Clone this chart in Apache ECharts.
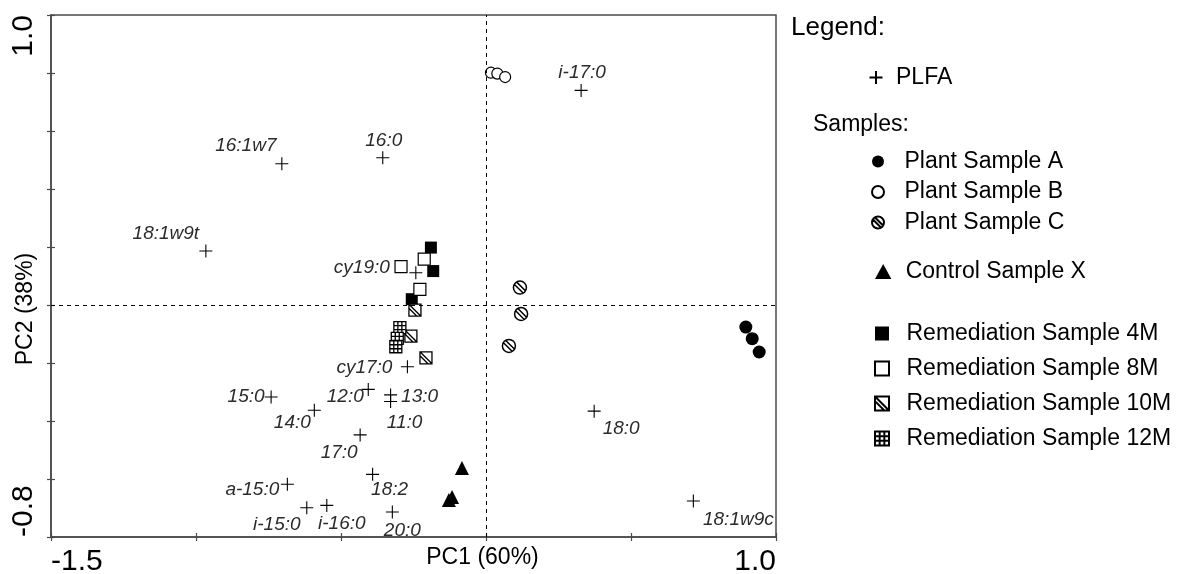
<!DOCTYPE html>
<html>
<head>
<meta charset="utf-8">
<script src="https://cdn.jsdelivr.net/npm/echarts@6/dist/echarts.min.js"></script>
<style>
  html, body { margin: 0; padding: 0; background: #fff; }
  #chart { width: 1182px; height: 574px; }
</style>
</head>
<body>
<div id="chart"></div>
<script>
const font = "Arial, 'Liberation Sans', sans-serif";
const ink = "#000";
const axisGrey = "#4a4a4a";

// axis end labels
const xTickValues = [-1.5, 1.0];
const xTickLabels = ["-1.5", "1.0"];
const yTickValues = [-0.8, 1.0];
const yTickLabels = ["-0.8", "1.0"];

// PLFA scores
const plfaNames = ["i-17:0", "16:1w7", "16:0", "18:1w9t", "cy19:0", "cy17:0", "15:0", "12:0", "13:0", "11:0",
  "14:0", "17:0", "18:2", "a-15:0", "i-15:0", "i-16:0", "20:0", "18:0", "18:1w9c"];
const plfaX = [0.328, -0.704, -0.356, -0.966, -0.242, -0.271, -0.741, -0.406, -0.329, -0.329,
  -0.592, -0.434, -0.391, -0.685, -0.618, -0.549, -0.323, 0.373, 0.715];
const plfaY = [0.740, 0.487, 0.508, 0.186, 0.111, -0.213, -0.317, -0.291, -0.310, -0.333,
  -0.363, -0.448, -0.584, -0.618, -0.699, -0.691, -0.714, -0.366, -0.676];

// sample scores
const plantA = [[0.896, -0.076], [0.918, -0.116], [0.942, -0.162]];
const plantB = [[0.017, 0.801], [0.039, 0.798], [0.066, 0.786]];
const plantC = [[0.117, 0.060], [0.121, -0.031], [0.079, -0.141]];
const controlX = [[-0.083, -0.562], [-0.128, -0.672], [-0.117, -0.662]];
const rem4M = [[-0.190, 0.198], [-0.182, 0.117], [-0.256, 0.020]];
const rem8M = [[-0.213, 0.158], [-0.293, 0.132], [-0.228, 0.054]];
const rem10M = [[-0.245, -0.018], [-0.259, -0.107], [-0.207, -0.182]];
const rem12M = [[-0.297, -0.078], [-0.306, -0.115], [-0.311, -0.144]];

// where each PLFA label sits relative to its cross (px)
const labelOffset = {
  "i-17:0": [1, -18], "16:1w7": [-36, -18], "16:0": [1, -17], "18:1w9t": [-40, -17],
  "cy19:0": [-54, -5], "cy17:0": [-43, 1], "15:0": [-25, 0], "12:0": [-23, 7],
  "13:0": [29, 2], "11:0": [14, 21], "14:0": [-22, 12], "17:0": [-21, 18],
  "18:2": [17, 15], "a-15:0": [-35, 5], "i-15:0": [-30, 17], "i-16:0": [15, 18],
  "20:0": [10, 19], "18:0": [27, 18], "18:1w9c": [45, 19]
};

const sym = {
  cross: "path://M0,6L12,6M6,0L6,12",
  circle: "path://M0,6A6,6,0,1,1,12,6A6,6,0,1,1,0,6Z",
  circleHatch: "path://M0,6A6,6,0,1,1,12,6A6,6,0,1,1,0,6ZM1.2,3.3L8.7,10.8M3.3,1.2L10.8,8.7",
  triangle: "path://M6,0L12,11L0,11Z",
  square: "path://M0,0H12V12H0Z",
  squareHatch: "path://M0,0H12V12H0ZM0,0L12,12M0,4L8,12",
  squareGrid: "path://M0,0H12V12H0ZM4,0V12M8,0V12M0,4H12M0,8H12"
};

const filled = { color: ink, borderWidth: 0, opacity: 1 };
const hollow = { color: "#fff", borderColor: ink, borderWidth: 1.2, opacity: 1 };
const hatched = { color: "#fff", borderColor: ink, borderWidth: 1.3, opacity: 1 };

function tickFormatter(values, labels) {
  return (v) => {
    const i = values.findIndex((t) => Math.abs(t - v) < 1e-6);
    return i >= 0 ? labels[i] : "";
  };
}

function samples(name, data, symbol, size, style) {
  return { type: "scatter", name, data, symbol, symbolSize: size, itemStyle: style, z: 3 };
}

const chart = echarts.init(document.getElementById("chart"));

const plfaData = plfaNames.map((name, i) => ({
  name,
  value: [plfaX[i], plfaY[i]],
  label: { offset: labelOffset[name] }
}));

const axisLine = { show: true, onZero: false, lineStyle: { color: axisGrey, width: 1.5 } };
const tickLine = { color: axisGrey, width: 1.2 };
const legendText = { fontFamily: font, fontSize: 23, color: ink };

chart.setOption({
  animation: false,
  backgroundColor: "#fff",
  textStyle: { fontFamily: font },
  grid: {
    left: 51, top: 15, width: 725, height: 522,
    show: true, borderColor: axisGrey, borderWidth: 1.5,
    outerBoundsMode: "none"
  },
  xAxis: [{
    type: "value", min: -1.5, max: 1.0, interval: 0.5, position: "bottom",
    axisLine, splitLine: { show: false },
    axisTick: { show: true, length: 4, lineStyle: tickLine },
    axisLabel: {
      formatter: tickFormatter(xTickValues, xTickLabels),
      fontSize: 30, color: ink, margin: 10,
      alignMinLabel: "left", alignMaxLabel: "right"
    },
    name: "PC1 (60%)", nameLocation: "middle", nameGap: 9, nameMoveOverlap: false,
    nameTextStyle: { fontSize: 23, color: ink, padding: [0, 0, 0, 138] }
  }, {
    type: "value", min: -1.5, max: 1.0, interval: 0.5, position: "bottom",
    axisLine: { show: false, onZero: false }, splitLine: { show: false }, axisLabel: { show: false },
    axisTick: { show: true, inside: true, length: 4, lineStyle: tickLine }
  }],
  yAxis: [{
    type: "value", min: -0.8, max: 1.0, interval: 0.2, position: "left",
    axisLine, splitLine: { show: false },
    axisTick: { show: true, length: 4, lineStyle: tickLine },
    axisLabel: {
      formatter: tickFormatter(yTickValues, yTickLabels),
      fontSize: 30, color: ink, margin: 12, rotate: 90,
      alignMinLabel: "left", alignMaxLabel: "right"
    },
    name: "PC2 (38%)", nameLocation: "middle", nameGap: 14, nameMoveOverlap: false,
    nameTextStyle: { fontSize: 23, color: ink, padding: [0, 66, 0, 0] }
  }, {
    type: "value", min: -0.8, max: 1.0, interval: 0.2, position: "left",
    axisLine: { show: false, onZero: false }, splitLine: { show: false }, axisLabel: { show: false },
    axisTick: { show: true, inside: true, length: 4, lineStyle: tickLine }
  }],
  legend: [
    { left: 862, top: 61, itemWidth: 30, itemHeight: 13, data: ["PLFA"], textStyle: legendText, selectedMode: false },
    { left: 866, top: 145, orient: "vertical", itemWidth: 43, itemHeight: 12, itemGap: 7.5,
      data: ["Plant Sample A", "Plant Sample B", "Plant Sample C"], textStyle: legendText, selectedMode: false },
    { left: 870, top: 255, itemWidth: 35, itemHeight: 15, data: ["Control Sample X"], textStyle: legendText, selectedMode: false },
    { left: 869, top: 317, orient: "vertical", itemWidth: 39, itemHeight: 14, itemGap: 12,
      data: ["Remediation Sample 4M", "Remediation Sample 8M", "Remediation Sample 10M", "Remediation Sample 12M"],
      textStyle: legendText, selectedMode: false }
  ],
  graphic: [
    { type: "text", left: 791, top: 15, style: { text: "Legend:", font: "26px " + font, fill: ink } },
    { type: "text", left: 813, top: 113, style: { text: "Samples:", font: "23px " + font, fill: ink } }
  ],
  series: [
    {
      type: "scatter", name: "PLFA", data: plfaData,
      symbol: sym.cross, symbolSize: 13,
      itemStyle: { color: "none", borderColor: ink, borderWidth: 1.1, opacity: 1 },
      label: {
        show: true, position: "inside", formatter: "{b}",
        fontStyle: "italic", fontSize: 19, color: "#2b2b2b", fontFamily: font
      },
      markLine: {
        silent: true, symbol: "none", label: { show: false },
        lineStyle: { type: [4, 4], color: ink, width: 1 },
        data: [{ xAxis: 0 }, { yAxis: 0 }]
      },
      z: 2
    },
    samples("Plant Sample A", plantA, sym.circle, 13, filled),
    samples("Plant Sample B", plantB, sym.circle, 11, hollow),
    samples("Plant Sample C", plantC, sym.circleHatch, 13, { color: "#fff", borderColor: ink, borderWidth: 1.5, opacity: 1 }),
    samples("Control Sample X", controlX, sym.triangle, 14, filled),
    samples("Remediation Sample 4M", rem4M, sym.square, 12, filled),
    samples("Remediation Sample 8M", rem8M, sym.square, 12, hollow),
    samples("Remediation Sample 10M", rem10M, sym.squareHatch, 12, hatched),
    samples("Remediation Sample 12M", rem12M, sym.squareGrid, 12, hatched)
  ]
});
</script>
</body>
</html>
